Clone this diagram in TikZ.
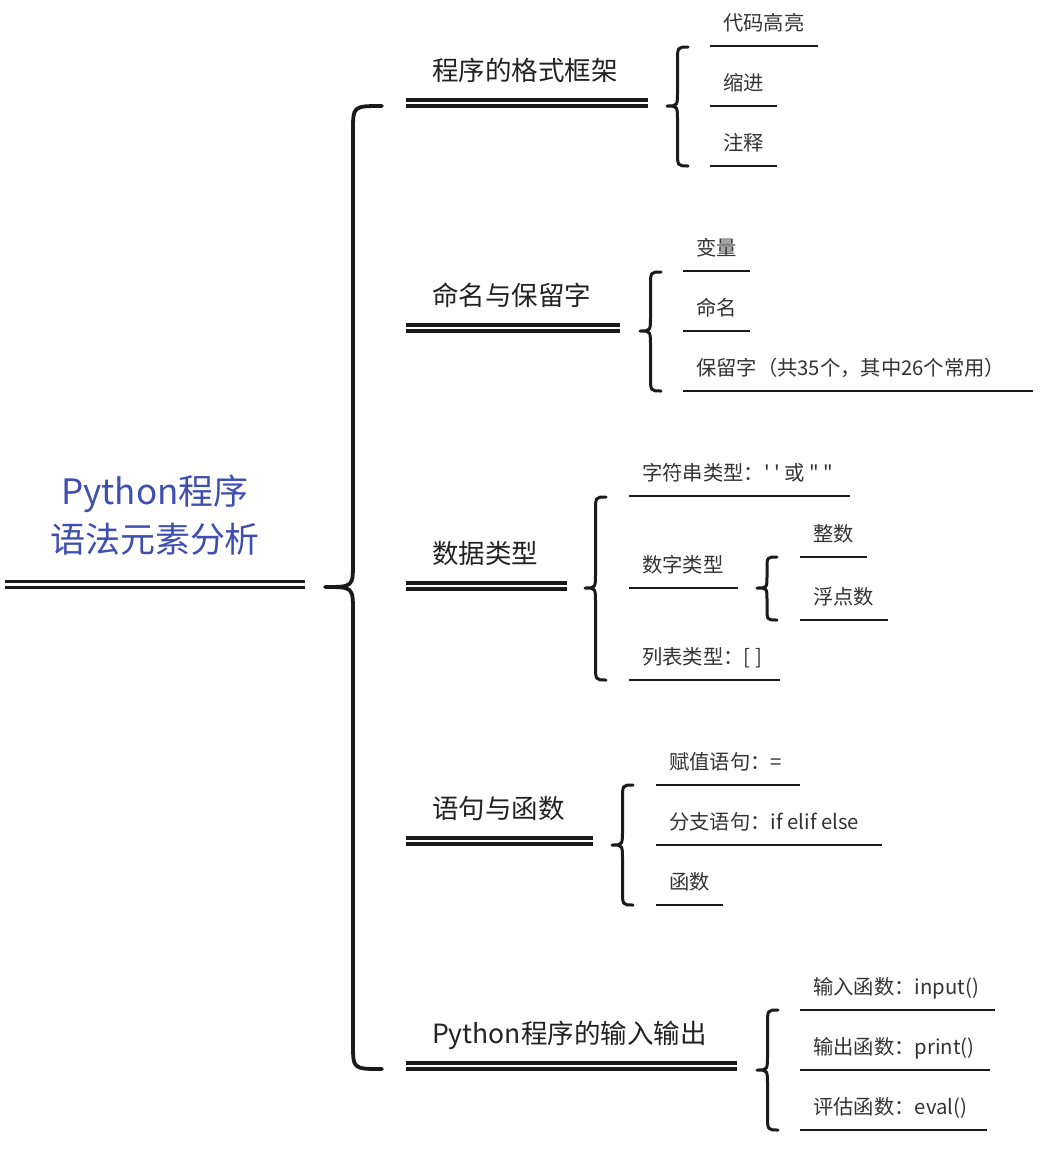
\documentclass[tikz,border=0pt]{standalone}
\usepackage{fontspec}
\setmainfont{Noto Sans CJK SC}
\definecolor{rootblue}{HTML}{3F4FB0}
\definecolor{inkline}{HTML}{1A1A1A}
\definecolor{txtone}{HTML}{222222}
\definecolor{txttwo}{HTML}{333333}
\tikzset{
  dline/.style={draw=inkline,double=white,line width=3.2pt,double distance=2.8pt},
  uline/.style={draw=inkline,line width=2.8pt},
  bracestyle/.style={draw=inkline,line width=3pt,line cap=round,line join=round},
  mainbrace/.style={draw=inkline,line width=3.8pt,line cap=round,line join=round},
  rootlabel/.style={text=rootblue,font=\fontsize{35}{48}\selectfont,align=center,inner sep=0pt},
  lvone/.style={text=txtone,font=\fontsize{26.5}{30}\selectfont,inner sep=0pt,anchor=west,text height=0.8em,text depth=0.1em},
  lvtwo/.style={text=txttwo,font=\fontsize{20.3}{24}\selectfont,inner sep=0pt,anchor=west,text height=0.8em,text depth=0.1em},
}
% #1 tip x, #2 mid x, #3 right x, #4 top y, #5 tip y, #6 bottom y, #7 radius, #8 style
\newcommand{\mybrace}[8]{%
  \draw[#8] (#3,#4) .. controls (#2,#4) .. (#2,#4+#7) -- (#2,#5-#7)
    .. controls (#2,#5) .. (#1,#5) .. controls (#2,#5) .. (#2,#5+#7)
    -- (#2,#6-#7) .. controls (#2,#6) .. (#3,#6);}
% #1 name, #2 x start, #3 x end, #4 line y, #5 text
\newcommand{\leaf}[5]{%
  \coordinate (#1a) at (#2,#4); \coordinate (#1b) at (#3,#4);
  \draw[uline] (#1a) -- (#1b);
  \node[lvtwo] (#1) at (#2+13,#4-19) {#5};}
% #1 name, #2 x end, #3 line y, #4 text
\newcommand{\branch}[4]{%
  \coordinate (#1a) at (406,#3); \coordinate (#1b) at (#2,#3);
  \draw[dline] (#1a) -- (#1b);
  \node[lvone] (#1) at (432,#3-26) {#4};}
\begin{document}
\begin{tikzpicture}[x=1pt,y=-1pt]
\useasboundingbox[fill=white] (0,0) rectangle (1047,1152);
% root
\node[rootlabel] (root) at (155,515) {Python程序\\语法元素分析};
\coordinate (roota) at (5,584.5); \coordinate (rootb) at (305,584.5);
\draw[dline] (roota) -- (rootb);
\mybrace{325}{353}{382}{106}{587}{1069}{25}{mainbrace}
% level 1
\branch{b1}{648}{103}{程序的格式框架}
\branch{b2}{620}{328}{命名与保留字}
\branch{b3}{567}{586}{数据类型}
\branch{b4}{593}{841}{语句与函数}
\branch{b5}{737}{1066}{Python程序的输入输出}
% group 1
\mybrace{667}{677.5}{688}{47}{106}{166}{15}{bracestyle}
\leaf{c11}{710}{818}{46}{代码高亮}
\leaf{c12}{710}{777}{106}{缩进}
\leaf{c13}{710}{777}{166}{注释}
% group 2
\mybrace{640}{650.5}{661}{272}{331}{391}{15}{bracestyle}
\leaf{c21}{683}{750}{271}{变量}
\leaf{c22}{683}{750}{331}{命名}
\leaf{c23}{683}{1033}{391}{保留字（共35个，其中26个常用）}
% group 3
\mybrace{585}{595.5}{606}{497}{588}{680}{15}{bracestyle}
\leaf{c31}{629}{850}{496}{字符串类型：\textquotesingle\ \textquotesingle\ 或 \textquotedbl\ \textquotedbl}
\leaf{c32}{629}{738}{588}{数字类型}
\leaf{c33}{629}{780}{680}{列表类型：[ ]}
\mybrace{757}{767}{777}{557}{588}{620}{12}{bracestyle}
\leaf{c321}{800}{867}{557}{整数}
\leaf{c322}{800}{888}{620}{浮点数}
% group 4
\mybrace{612}{622.5}{633}{785}{845}{905}{15}{bracestyle}
\leaf{c41}{656}{800}{785}{赋值语句：=}
\leaf{c42}{656}{882}{845}{分支语句：if elif else}
\leaf{c43}{656}{723}{905}{函数}
% group 5
\mybrace{757}{767.5}{778}{1010}{1070}{1130}{15}{bracestyle}
\leaf{c51}{800}{995}{1010}{输入函数：input()}
\leaf{c52}{800}{990}{1070}{输出函数：print()}
\leaf{c53}{800}{987}{1130}{评估函数：eval()}
\end{tikzpicture}
\end{document}
